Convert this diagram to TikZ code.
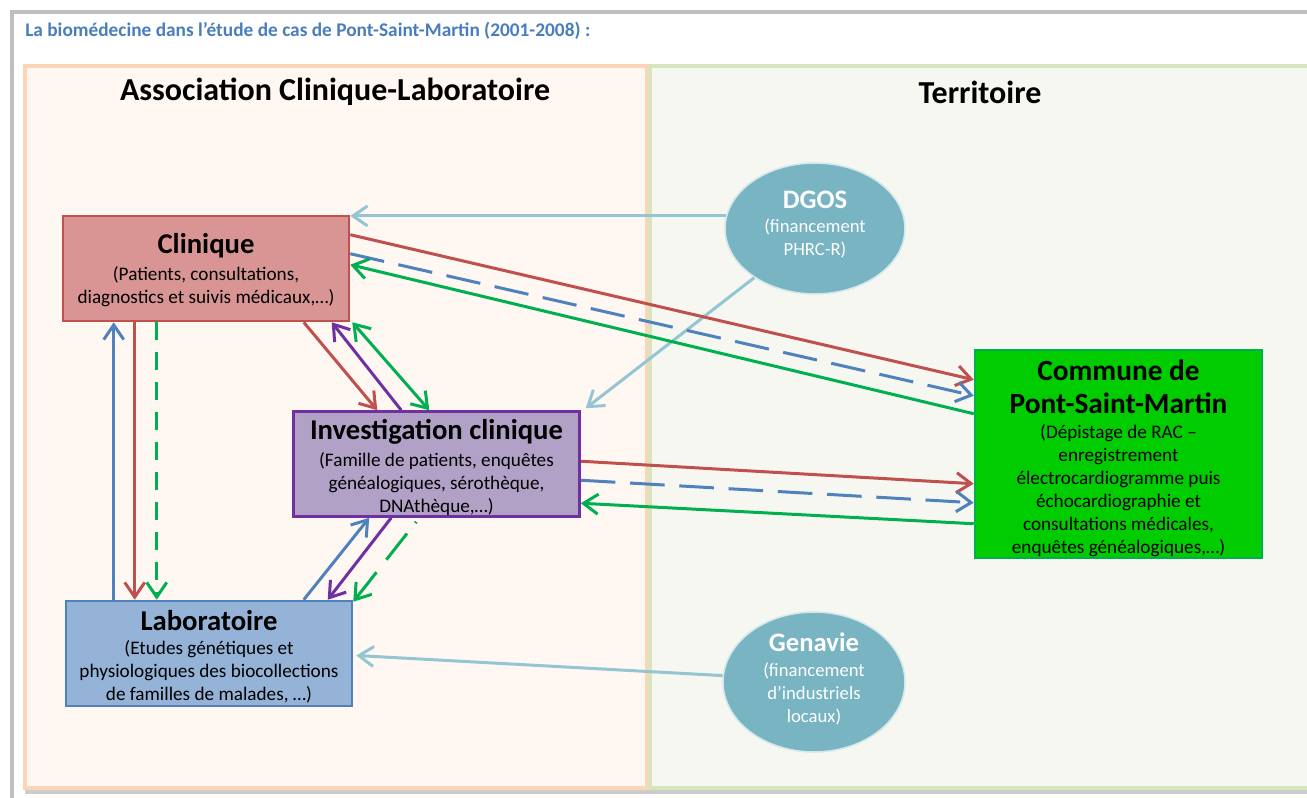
\documentclass[tikz,border=0pt]{standalone}
\usepackage{fontspec}
\setmainfont{Carlito}
\usetikzlibrary{arrows.meta,calc,shapes.geometric}
\definecolor{cred}{HTML}{C0504D}
\definecolor{cblue}{HTML}{4F81BD}
\definecolor{cgreen}{HTML}{00B050}
\definecolor{cpurple}{HTML}{7030A0}
\definecolor{clight}{HTML}{93C6D2}
\definecolor{peachbg}{HTML}{FEF7F2}
\definecolor{peachbd}{HTML}{FBD5B5}
\definecolor{greenbg}{HTML}{F6F7F0}
\definecolor{greenbd}{HTML}{D7E4BD}
\definecolor{framegray}{HTML}{BFBFBF}
\definecolor{clinfill}{HTML}{D99594}
\definecolor{invfill}{HTML}{B2A1C7}
\definecolor{labfill}{HTML}{95B3D7}
\definecolor{commfill}{HTML}{00CC00}
\definecolor{ellfill}{HTML}{78B4C2}
\definecolor{ellbd}{HTML}{D5E8EE}
\definecolor{subblue}{HTML}{4A7EBB}
\tikzset{
  boxbase/.style={draw, line width=1.9pt, minimum width=214.5pt, minimum height=78.75pt, inner sep=0pt},
  clinbox/.style={boxbase, fill=clinfill, draw=cred},
  invbox/.style={boxbase, fill=invfill, draw=cpurple},
  labbox/.style={boxbase, fill=labfill, draw=cblue},
  commbox/.style={boxbase, fill=commfill, draw=cgreen, minimum width=215.25pt, minimum height=156pt},
  fund/.style={ellipse, draw=ellbd, line width=1.2pt, fill=ellfill, inner sep=0pt},
  ttl/.style={font=\bfseries\fontsize{21.5}{25}\selectfont, align=center, inner sep=0pt},
  ptitle/.style={font=\bfseries\fontsize{24}{28}\selectfont, align=center, inner sep=0pt},
  sub/.style={font=\fontsize{14.4}{17.25}\selectfont, align=center, inner sep=0pt},
  wttl/.style={ttl, text=white, font=\bfseries\fontsize{20}{24}\selectfont},
  wsub/.style={sub, text=white, font=\fontsize{14}{17.5}\selectfont},
  conn/.style={line width=2.25pt, -{Straight Barb[length=11pt, width=15pt]}},
  red/.style={conn, cred},
  blu/.style={conn, cblue},
  grn/.style={conn, cgreen},
  pur/.style={conn, cpurple},
  lbl/.style={conn, clight},
  bdash/.style={dash pattern=on 26pt off 11pt},
  gdash/.style={dash pattern=on 13.5pt off 9pt},
}
\begin{document}
\begin{tikzpicture}[x=0.75pt,y=-0.75pt]
\useasboundingbox (0,0) rectangle (1307,798);
\fill[white] (0,0) rectangle (1307,798);
% frame
\draw[framegray, line width=3.5pt] (12,800) -- (12,12) -- (1312,12);
\draw[framegray!80, line width=2.5pt] (25,792) -- (1312,792);
% panels
\draw[fill=peachbg, draw=peachbd, line width=2.5pt] (25,66) rectangle (647,788);
\draw[fill=greenbg, draw=greenbd, line width=2.5pt] (650,66) rectangle (1320,788);

\node[anchor=west, inner sep=0pt, text=subblue, font=\bfseries\fontsize{14.5}{17}\selectfont] (subt) at (25,31) {La biomédecine dans l’étude de cas de Pont-Saint-Martin (2001-2008) :};
\node[ptitle] (acl) at (335,92) {Association Clinique-Laboratoire};
\node[ptitle] (terr) at (980,92) {Territoire};

% boxes
\node[clinbox] (clin) at (206,268.5) {};
\node[invbox] (inv) at (436.5,464) {};
\node[labbox] (lab) at (209,653.5) {};
\node[commbox] (comm) at (1118.5,454) {};
\node[fund, minimum width=135pt, minimum height=98.25pt] (dgos) at (815,228.5) {};
\node[fund, minimum width=136.5pt, minimum height=105pt] (gen) at (814,682) {};

% texts
\node[ttl] (clint) at (206,246) {Clinique};
\node[sub] (clins) at (206,286.5) {(Patients, consultations,\\diagnostics et suivis médicaux,…)};
\node[ttl] (invt) at (436.5,432) {Investigation clinique};
\node[sub] (invs) at (436.5,484) {(Famille de patients, enquêtes\\généalogiques, sérothèque,\\DNAthèque,…)};
\node[ttl] (labt) at (209,621) {Laboratoire};
\node[sub] (labs) at (209,672) {(Etudes génétiques et\\physiologiques des biocollections\\de familles de malades, …)};
\node[ttl, font=\bfseries\fontsize{22}{24.75}\selectfont] (commt) at (1118.5,386.5) {Commune de\\Pont-Saint-Martin};
\node[sub] (comms) at (1118.5,490.5) {(Dépistage de RAC –\\enregistrement\\électrocardiogramme puis\\échocardiographie et\\consultations médicales,\\enquêtes généalogiques,…)};
\node[wttl] (dgost) at (815,200) {DGOS};
\node[wsub] (dgoss) at (815,238.5) {(financement\\PHRC-R)};
\node[wttl] (gent) at (814,642) {Genavie};
\node[wsub] (gens) at (814,694) {(financement\\d’industriels\\locaux)};

% funding arrows
\draw[lbl] (dgos.172) -- (dgos.172 -| clin.east);
\draw[lbl] (dgos.219) -- ($(inv.north east)+(5,-2)$);
\draw[lbl] (gen.176) -- ($(lab.east)+(3,2)$);

% clinique <-> commune
\draw[red] ($(clin.north east)+(0,20)$) -- ($(comm.north west)+(0,31)$);
\draw[blu, bdash] ($(clin.north east)+(0,39)$) -- ($(comm.north west)+(0,47)$);
\draw[grn] ($(comm.north west)+(0,65)$) -- ($(clin.north east)+(0,50)$);
% investigation <-> commune
\draw[red] ($(inv.north east)+(0,51)$) -- ($(comm.north west)+(0,135)$);
\draw[blu, bdash] ($(inv.north east)+(0,70)$) -- ($(comm.north west)+(0,154)$);
\draw[grn] ($(comm.north west)+(0,175)$) -- ($(inv.north east)+(0,93)$);
% clinique <-> investigation
\draw[red] ($(clin.south west)+(242,0)$) -- ($(inv.north west)+(85,0)$);
\draw[pur] ($(inv.north west)+(109,0)$) -- ($(clin.south west)+(270,0)$);
\draw[grn, {Straight Barb[length=11pt, width=15pt]}-{Straight Barb[length=11pt, width=15pt]}] ($(clin.south east)+(2,0)$) -- ($(inv.north west)+(137,0)$);
% clinique <-> laboratoire
\draw[blu] ($(lab.north west)+(49,0)$) -- ($(clin.south west)+(52,0)$);
\draw[red] ($(clin.south west)+(73,0)$) -- ($(lab.north west)+(70,0)$);
\draw[grn, gdash] ($(clin.south west)+(95,0)$) -- ($(lab.north west)+(92,0)$);
% laboratoire <-> investigation
\draw[blu] ($(lab.north west)+(239,0)$) -- ($(inv.south west)+(77,0)$);
\draw[pur] ($(inv.south west)+(99,0)$) -- ($(lab.north west)+(263,0)$);
\draw[grn, dash pattern=on 1.2pt off 10pt on 25pt off 12pt on 80pt off 1pt] ($(inv.south west)+(124,4)$) -- ($(lab.north east)+(0,2)$);
\end{tikzpicture}
\end{document}
